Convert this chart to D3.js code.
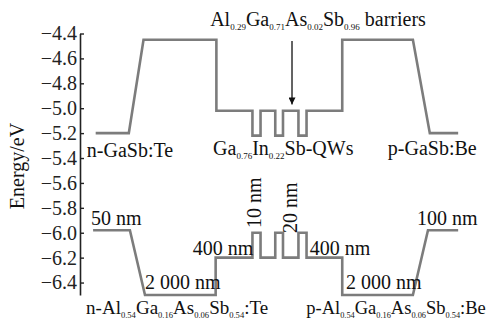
<!DOCTYPE html>
<html>
<head>
<meta charset="utf-8">
<script src="https://cdn.jsdelivr.net/npm/d3@7"></script>
<style>
  body { margin: 0; background: #fff; }
</style>
</head>
<body>
<div id="chart"></div>
<script>
// layer positions (arbitrary units along growth direction) and band energies (eV)
const upperX = [1, 10, 14, 33.8, 33.8, 43.6, 43.6, 45.8, 45.8, 49.8, 49.8, 51.9, 51.9, 56.1, 56.1, 58.3, 58.3, 68, 68, 87.2, 91.8, 99.5];
const upperE = [-5.2, -5.2, -4.45, -4.45, -5.02, -5.02, -5.22, -5.22, -5.02, -5.02, -5.22, -5.22, -5.02, -5.02, -5.22, -5.22, -5.02, -5.02, -4.45, -4.45, -5.2, -5.2];
const lowerX = [0.3, 10.3, 14.4, 33.6, 33.6, 43.6, 43.6, 45.8, 45.8, 49.8, 49.8, 51.9, 51.9, 56.1, 56.1, 58.3, 58.3, 68, 68, 87.2, 91.3, 99.5];
const lowerE = [-5.98, -5.98, -6.5, -6.5, -6.2, -6.2, -6.0, -6.0, -6.2, -6.2, -6.0, -6.0, -6.2, -6.2, -6.0, -6.0, -6.2, -6.2, -6.5, -6.5, -5.98, -5.98];
const yTicks = [-4.4, -4.6, -4.8, -5.0, -5.2, -5.4, -5.6, -5.8, -6.0, -6.2, -6.4];

const width = 488, height = 320;
const serif = "'Liberation Serif', 'Times New Roman', Times, 'DejaVu Serif', serif";

const svg = d3.select("#chart")
    .append("svg")
    .attr("width", width)
    .attr("height", height)
    .style("font-family", serif);

const x = d3.scaleLinear().domain([0, 100]).range([92, 460]);
const y = d3.scaleLinear().domain([-6.5, -4.4]).range([295, 33.5]);

// y axis, ticks pointing inwards
const yAxis = d3.axisLeft(y)
    .tickValues(yTicks)
    .tickFormat(d3.format(".1f"))
    .tickSizeInner(-4)
    .tickSizeOuter(0)
    .tickPadding(3);

const gy = svg.append("g")
    .attr("transform", `translate(80,0)`)
    .call(yAxis)
    .attr("font-family", null)
    .attr("font-size", null);
gy.select(".domain").attr("stroke", "#222").attr("stroke-width", 1.6);
gy.selectAll(".tick line").attr("stroke", "#222").attr("stroke-width", 1.4);
gy.selectAll(".tick text")
    .style("font-family", serif)
    .style("font-size", "20px")
    .attr("fill", "#222");

svg.append("text")
    .attr("transform", `translate(24,166) rotate(-90)`)
    .attr("text-anchor", "middle")
    .style("font-family", serif)
    .style("font-size", "20px")
    .attr("fill", "#111")
    .text("Energy/eV");

// band lines
const line = d3.line().x(d => x(d[0])).y(d => y(d[1]));
[[upperX, upperE], [lowerX, lowerE]].forEach(([xs, es]) => {
    const pts = xs.map((v, i) => [v, es[i]]);
    svg.append("path")
        .attr("d", line(pts))
        .attr("fill", "none")
        .attr("stroke", "#7c7c7c")
        .attr("stroke-width", 2.6)
        .attr("stroke-linejoin", "miter");
});

// text with subscripts: "Al_{0.29}Ga" style
function richText(sel, str, size) {
    const parts = str.split(/(_\{[^}]*\})/).filter(s => s.length);
    let sub = false;
    parts.forEach(p => {
        const m = p.match(/^_\{(.*)\}$/);
        if (m) {
            sel.append("tspan").style("font-size", (size * 0.45) + "px").attr("dy", size * 0.2).text(m[1]);
            sub = true;
        } else {
            const t = sel.append("tspan").style("font-size", size + "px").text(p);
            if (sub) t.attr("dy", -size * 0.2);
            sub = false;
        }
    });
}

const labels = [
    { t: "Al_{0.29}Ga_{0.71}As_{0.02}Sb_{0.96} barriers", x: 32.1, e: -4.34, s: 20 },
    { t: "n-GaSb:Te", x: -1.4, e: -5.392, s: 20 },
    { t: "Ga_{0.76}In_{0.22}Sb-QWs", x: 32.9, e: -5.376, s: 20 },
    { t: "p-GaSb:Be", x: 80.4, e: -5.376, s: 20 },
    { t: "50 nm", x: -0.3, e: -5.938, s: 20 },
    { t: "2 000 nm", x: 14.4, e: -6.452, s: 20 },
    { t: "400 nm", x: 27.4, e: -6.179, s: 20 },
    { t: "400 nm", x: 59.2, e: -6.179, s: 20 },
    { t: "2 000 nm", x: 69.0, e: -6.452, s: 20 },
    { t: "100 nm", x: 88.3, e: -5.938, s: 20 },
    { t: "n-Al_{0.54}Ga_{0.16}As_{0.06}Sb_{0.54}:Te", x: -1.6, e: -6.653, s: 19 },
    { t: "p-Al_{0.54}Ga_{0.16}As_{0.06}Sb_{0.54}:Be", x: 107, e: -6.653, s: 18.5, anchor: "end" }
];
labels.forEach(l => {
    const t = svg.append("text")
        .attr("x", x(l.x)).attr("y", y(l.e))
        .attr("text-anchor", l.anchor || "start")
        .style("font-family", serif)
        .attr("fill", "#111");
    richText(t, l.t, l.s);
});

// vertical thickness labels
[{ t: "10 nm", x: 45.9, e: -5.962 }, { t: "20 nm", x: 55.7, e: -6.002 }].forEach(l => {
    svg.append("text")
        .attr("transform", `translate(${x(l.x)},${y(l.e)}) rotate(-90)`)
        .style("font-family", serif)
        .style("font-size", "20px")
        .attr("fill", "#111")
        .text(l.t);
});

// arrow pointing to the barriers
svg.append("defs").append("marker")
    .attr("id", "head")
    .attr("viewBox", "0 0 10 10")
    .attr("refX", 10).attr("refY", 5)
    .attr("markerWidth", 7).attr("markerHeight", 7)
    .attr("markerUnits", "userSpaceOnUse")
    .attr("orient", "auto")
    .append("path")
    .attr("d", "M0,0L10,5L0,10z")
    .attr("fill", "#111");

svg.append("line")
    .attr("x1", x(54.35)).attr("x2", x(54.35))
    .attr("y1", y(-4.46)).attr("y2", y(-4.97))
    .attr("stroke", "#111")
    .attr("stroke-width", 1.3)
    .attr("marker-end", "url(#head)");
</script>
</body>
</html>
